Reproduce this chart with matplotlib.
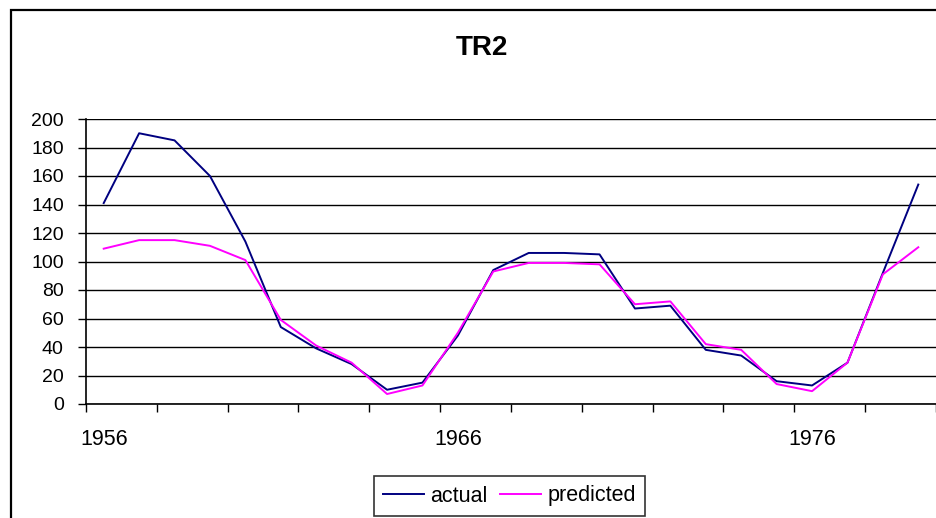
import matplotlib
matplotlib.use("Agg")
import matplotlib.pyplot as plt
from matplotlib.patches import Rectangle

plt.rcParams['font.family'] = ['Liberation Sans', 'DejaVu Sans']

years = list(range(1956, 1980))
actual = [141, 190, 185, 160, 114, 54, 39, 28, 10, 15, 48, 94,
          106, 106, 105, 67, 69, 38, 34, 16, 13, 29, 92, 154]
predicted = [109, 115, 115, 111, 101, 59, 41, 29, 7, 13, 50, 93,
             99, 99, 98, 70, 72, 42, 38, 14, 9, 29, 91, 110]
label_years = [1956, 1966, 1976]

fig = plt.figure(figsize=(9.37, 5.18), dpi=100)
ax = fig.add_axes([86/937, 1-404/518, 850/937, 285/518])

x = list(range(len(years)))
ax.plot(x, actual, color='#000080', lw=1.4, label='actual')
ax.plot(x, predicted, color='#FF00FF', lw=1.4, label='predicted')

ax.set_xlim(-0.5, len(years) - 0.5)
ax.set_ylim(0, 200)
ax.set_yticks(range(0, 201, 20))
ax.yaxis.grid(True, color='black', lw=1)
ax.set_axisbelow(True)

# ticks between categories every 2, labels every 10 years
ax.set_xticks([i - 0.5 for i in range(0, len(years) + 1, 2)])
ax.set_xticklabels([])
ax.set_xticks([years.index(y) for y in label_years], minor=True)
ax.set_xticklabels([str(y) for y in label_years], minor=True)
ax.tick_params(axis='x', which='major', direction='out', length=6, width=1)
ax.tick_params(axis='x', which='minor', length=0, pad=18, labelsize=15.5)
ax.tick_params(axis='y', direction='out', length=6, width=1, pad=10, labelsize=14)

for s in ['top', 'right']:
    ax.spines[s].set_visible(False)
ax.spines['left'].set_linewidth(1.2)
ax.spines['bottom'].set_linewidth(1.2)

fig.text(482/937, 1-48/518, 'TR2', ha='center', va='center',
         fontsize=20, fontweight='bold')

leg = fig.legend(loc='center', bbox_to_anchor=(509.5/937, 1-496/518),
                 ncol=2, fontsize=15.5, frameon=True, fancybox=False,
                 edgecolor='black', handlelength=1.9, columnspacing=0.6,
                 borderpad=0.42, handletextpad=0.3, borderaxespad=0)
leg.get_frame().set_linewidth(1.2)

# outer chart border (right and bottom run off the image)
fig.patches.append(Rectangle((11/937, -0.1), 2.0, (518-10)/518 + 0.1,
                             transform=fig.transFigure, fill=False,
                             edgecolor='black', lw=1.6))

fig.savefig('out.png', dpi=100)
